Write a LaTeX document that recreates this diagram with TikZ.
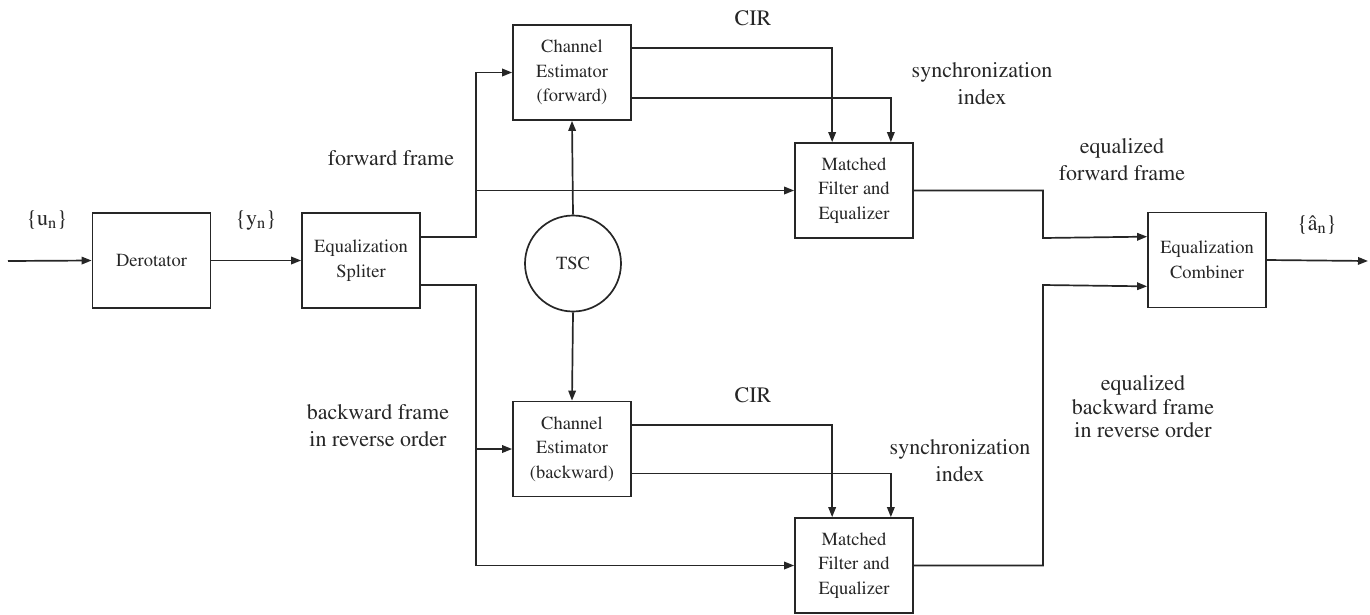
\documentclass[tikz,border=0pt]{standalone}
\usepackage[T1]{fontenc}
\usepackage{mathptmx}
\usetikzlibrary{arrows.meta,calc}
\begin{document}
\begin{tikzpicture}[x=1pt,y=-1pt,
  line width=1.7pt, draw=black!85,
  arr/.style={draw=black!85,line width=1.7pt,-{Triangle[length=10pt,width=7.5pt]}},
  blk/.style={draw=black!85,line width=1.7pt,minimum width=118pt,minimum height=95pt,inner sep=0pt,align=center,font=\fontsize{18.5}{24.5}\selectfont,text=black!85},
  lbl/.style={inner sep=0pt,align=center,font=\fontsize{22}{27}\selectfont,text=black!85}]
\useasboundingbox (0,0) rectangle (1370,614);
% blocks
\node[blk] (der) at (151.5,260.5) {Derotator};
\node[blk] (spl) at (361,260.5) {Equalization\\Spliter};
\node[blk] (cef) at (572,72.5) {Channel\\Estimator\\(forward)};
\node[blk] (mff) at (854,190.5) {Matched\\Filter and\\Equalizer};
\node[blk,circle,minimum width=96pt,minimum height=96pt] (tsc) at (573,263.5) {TSC};
\node[blk] (ceb) at (572,449) {Channel\\Estimator\\(backward)};
\node[blk] (mfb) at (854,565.5) {Matched\\Filter and\\Equalizer};
\node[blk] (comb) at (1207,260) {Equalization\\Combiner};
% coordinates
\coordinate (in) at (8,261);
\coordinate (out) at (1368,261);
\coordinate (jf) at (476,190.5);
\coordinate (jb) at (476,449);
\coordinate (kf) at (1043,238);
\coordinate (kb) at (1043,285);
% connectors
\draw[arr] (in) -- (der.west);
\draw[arr] (der.east) -- (spl.west);
\draw[arr] ([yshift=-25pt]spl.north east) -| (jf) |- (cef.west);
\draw[arr] (jf) -- (mff.west);
\draw[arr] ([yshift=24pt]spl.south east) -| (jb) |- (mfb.west);
\draw[arr] (jb) -- (ceb.west);
\draw[arr] (tsc.north) -- (cef.south);
\draw[arr] (tsc.south) -- (ceb.north);
\draw[arr] ([yshift=-24pt]cef.north east) -| ([xshift=38pt]mff.north west);
\draw[arr] ([yshift=23pt]cef.south east) -| ([xshift=-23pt]mff.north east);
\draw[arr] ([yshift=-24pt]ceb.north east) -| ([xshift=38pt]mfb.north west);
\draw[arr] ([yshift=24pt]ceb.south east) -| ([xshift=-23pt]mfb.north east);
\draw[arr] (mff.east) -| (kf) -- ([yshift=-25pt]comb.north west);
\draw[arr] (mfb.east) -| (kb) -- ([yshift=22pt]comb.south west);
\draw[arr] (comb.east) -- (out);
% labels
\node[lbl] (lu) at (47,220) {\{u\textsubscript{n}\}};
\node[lbl] (ly) at (256,220) {\{y\textsubscript{n}\}};
\node[lbl] (la) at (1317,225) {\{\^a\textsubscript{n}\}};
\node[lbl] (lcf) at (753,18) {CIR};
\node[lbl] (lcb) at (753,395) {CIR};
\node[lbl] (lsf) at (982,84) {synchronization\\index};
\node[lbl] (lsb) at (960,461) {synchronization\\index};
\node[lbl] (lff) at (391,158) {forward frame};
\node[lbl] (lbf) at (378,426) {backward frame\\in reverse order};
\node[lbl] (lef) at (1122,160) {equalized\\forward frame};
\node[lbl,font=\fontsize{22}{23.5}\selectfont] (leb) at (1143,407) {equalized\\backward frame\\in reverse order};
\end{tikzpicture}
\end{document}
